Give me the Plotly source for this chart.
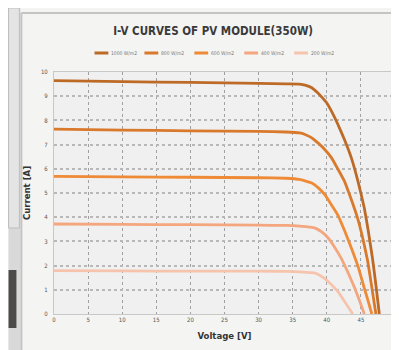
import plotly.graph_objects as go

labels = ["1000 W/m2", "800 W/m2", "600 W/m2", "400 W/m2", "200 W/m2"]
colors = ["#bd6a27", "#d9792c", "#ef8a36", "#f4a67e", "#f6c4ac"]

v_1000 = [0, 10, 20, 30, 34, 36.0, 36.8, 37.8, 38.7, 39.3, 40, 40.8, 41.6, 42.6, 43.6, 44.6, 45.5, 46.1, 46.7, 47.2, 47.7]
i_1000 = [9.64, 9.6, 9.57, 9.53, 9.51, 9.5, 9.46, 9.35, 9.13, 8.95, 8.72, 8.32, 7.85, 7.2, 6.45, 5.45, 4.38, 3.4, 2.3, 1.2, 0]
v_800 = [0, 10, 20, 30, 34, 36.0, 36.8, 37.8, 38.7, 39.7, 40.7, 41.6, 42.6, 43.5, 44.5, 45.3, 46.0, 46.6, 47.2]
i_800 = [7.64, 7.6, 7.57, 7.55, 7.52, 7.48, 7.42, 7.28, 7.07, 6.8, 6.45, 6.0, 5.48, 4.8, 3.97, 3.1, 2.18, 1.1, 0]
v_600 = [0, 10, 20, 30, 34, 36.0, 37.8, 38.8, 39.7, 40.6, 41.6, 42.6, 43.6, 44.6, 45.5, 46.1, 46.6]
i_600 = [5.69, 5.67, 5.65, 5.63, 5.61, 5.56, 5.41, 5.2, 4.93, 4.55, 4.1, 3.45, 2.73, 1.95, 1.07, 0.5, 0]
v_400 = [0, 10, 20, 30, 34, 36.0, 38.3, 39.3, 40.2, 41.1, 42.1, 43.1, 44.1, 44.8, 45.5]
i_400 = [3.72, 3.7, 3.69, 3.67, 3.66, 3.63, 3.55, 3.38, 3.14, 2.78, 2.31, 1.72, 1.07, 0.55, 0]
v_200 = [0, 10, 20, 30, 34, 36.0, 38.3, 39.5, 40.7, 41.7, 42.6, 43.2, 43.8]
i_200 = [1.79, 1.78, 1.77, 1.77, 1.76, 1.74, 1.69, 1.5, 1.21, 0.9, 0.52, 0.27, 0]

series_v = [v_1000, v_800, v_600, v_400, v_200]
series_i = [i_1000, i_800, i_600, i_400, i_200]

x_ticks = [0, 5, 10, 15, 20, 25, 30, 35, 40, 45, 50]
y_ticks = [0, 1, 2, 3, 4, 5, 6, 7, 8, 9, 10]

# plot area geometry (pixels) used to place decorations in paper coordinates
L, R, T, B, W, H = 46, 8, 64, 44, 399, 350
PW, PH = W - L - R, H - T - B

def px(x):
    return (x - L) / PW

def py(y):
    return (H - B - y) / PH

fig = go.Figure()
for lab, col, vv, ii in zip(labels, colors, series_v, series_i):
    fig.add_trace(go.Scatter(x=vv, y=ii, mode="lines", name=lab, showlegend=False,
                             line=dict(color=col, width=2.8, shape="spline", smoothing=0.3)))

cond = "DejaVu Sans Condensed, Liberation Sans Narrow, Arial Narrow, sans-serif"
tickfont = dict(family=cond, size=6, color="#555")

shapes = [
    dict(type="rect", xref="paper", yref="paper", x0=px(0), x1=px(12), y0=py(350), y1=py(0),
         fillcolor="#d9d9d9", line=dict(width=0), layer="below"),
    dict(type="rect", xref="paper", yref="paper", x0=px(0), x1=px(11), y0=py(220), y1=py(0),
         fillcolor="#e4e4e4", line=dict(color="#bdbdbd", width=1), layer="below"),
    dict(type="rect", xref="paper", yref="paper", x0=px(0), x1=px(8), y0=py(320), y1=py(262),
         fillcolor="#4d4b49", line=dict(width=0), layer="below"),
    dict(type="line", xref="paper", yref="paper", x0=px(13), x1=px(13), y0=py(350), y1=py(5),
         line=dict(color="#c4c4c4", width=2), layer="below"),
    dict(type="line", xref="paper", yref="paper", x0=px(13), x1=px(399), y0=py(5), y1=py(5),
         line=dict(color="#c4c4c4", width=2), layer="below"),
]
annotations = []
leg_x0, leg_dx, leg_y = 87, 50.5, 45
for k, (lab, col) in enumerate(zip(labels, colors)):
    x0 = leg_x0 + k * leg_dx
    shapes.append(dict(type="line", xref="paper", yref="paper", x0=px(x0), x1=px(x0 + 14),
                       y0=py(leg_y), y1=py(leg_y), line=dict(color=col, width=3)))
    annotations.append(dict(text=lab, xref="paper", yref="paper", x=px(x0 + 15), y=py(leg_y),
                            xanchor="left", yanchor="middle", showarrow=False,
                            font=dict(family=cond, size=5, color="#777")))

fig.update_layout(
    width=W, height=H,
    margin=dict(l=L, r=R, t=T, b=B),
    paper_bgcolor="#f4f4f3",
    plot_bgcolor="#f0f0f0",
    title=dict(text="<b>I-V CURVES OF PV MODULE(350W)</b>", x=px(207), xanchor="center",
               xref="paper", y=1 - 23 / H, yanchor="middle",
               font=dict(family=cond, size=11.5, color="#3a3a3a")),
    showlegend=False,
    xaxis=dict(range=[0, 50], tickvals=x_ticks, ticktext=[str(t) for t in x_ticks],
               tickfont=tickfont, showgrid=True, gridcolor="#a0a0a0", griddash="dot", gridwidth=1,
               zeroline=False, showline=True, linecolor="#c8c8c8", mirror=True, ticks="",
               ticklabelstandoff=0,
               title=dict(text="<b>Voltage [V]</b>", standoff=10,
                          font=dict(family=cond, size=9.5, color="#333"))),
    yaxis=dict(range=[0, 10], tickvals=y_ticks, ticktext=[str(t) for t in y_ticks],
               tickfont=tickfont, showgrid=True, gridcolor="#b8b8b8", griddash="dot", gridwidth=2,
               zeroline=False, showline=True, linecolor="#c8c8c8", mirror=True, ticks="",
               ticklabelstandoff=4,
               title=dict(text="<b>Current [A]</b>", standoff=8,
                          font=dict(family=cond, size=9.5, color="#333"))),
    shapes=shapes,
    annotations=annotations,
)

fig.write_html("out.html")
